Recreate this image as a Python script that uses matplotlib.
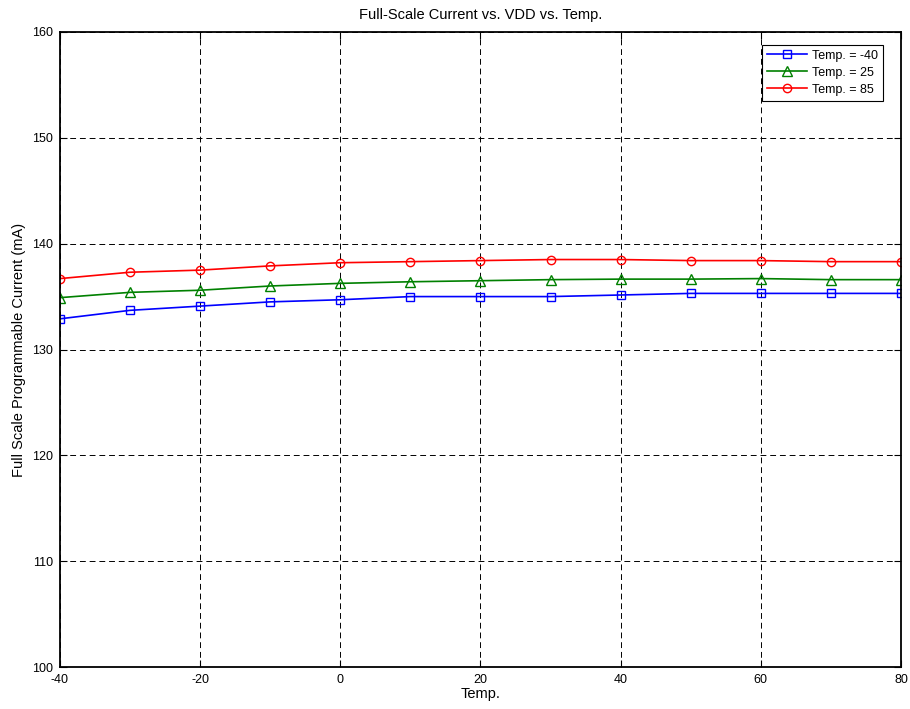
import matplotlib
matplotlib.use('Agg')
import matplotlib.pyplot as plt

temps = [-40, -30, -20, -10, 0, 10, 20, 30, 40, 50, 60, 70, 80]
cur_m40 = [132.9, 133.7, 134.1, 134.5, 134.7, 135.0, 135.0, 135.0, 135.15, 135.3, 135.3, 135.3, 135.3]
cur_25 = [134.9, 135.4, 135.6, 136.0, 136.25, 136.4, 136.5, 136.6, 136.65, 136.65, 136.7, 136.6, 136.6]
cur_85 = [136.7, 137.3, 137.5, 137.9, 138.2, 138.3, 138.4, 138.5, 138.5, 138.4, 138.4, 138.3, 138.3]

plt.rcParams['font.family'] = ['Liberation Sans', 'DejaVu Sans']
plt.rcParams['axes.unicode_minus'] = False

fig = plt.figure(figsize=(9.1, 7.09), dpi=100)
ax = fig.add_axes([0.0659, 0.0592, 0.9242, 0.8957])

ax.plot(temps, cur_m40, color='#0000ff', marker='s', mfc='none', ms=6, lw=1.2, label='Temp. = -40')
ax.plot(temps, cur_25, color='#008000', marker='^', mfc='none', ms=6.5, lw=1.2, label='Temp. = 25')
ax.plot(temps, cur_85, color='#ff0000', marker='o', mfc='none', ms=6, lw=1.2, label='Temp. = 85')

ax.set_xlim(-40, 80)
ax.set_ylim(100, 160)
ax.set_xticks(range(-40, 81, 20))
ax.set_yticks(range(100, 161, 10))
ax.grid(True, color='black', linestyle=(0, (6, 4)), linewidth=0.7)
ax.tick_params(direction='in', top=True, right=True, labelsize=9, length=5, width=0.8)
ax.tick_params(axis='x', pad=5)
ax.tick_params(axis='y', pad=5)
for s in ax.spines.values():
    s.set_linewidth(1.3)

ax.set_title('Full-Scale Current vs. VDD vs. Temp.', fontsize=10.5, pad=9)
ax.set_xlabel('Temp.', fontsize=10.5, labelpad=1)
ax.set_ylabel('Full Scale Programmable Current (mA)', fontsize=10.5, labelpad=4)

leg = ax.legend(loc='upper right', bbox_to_anchor=(0.979, 0.98), borderaxespad=0,
                fontsize=9, fancybox=False, framealpha=1, edgecolor='black',
                handlelength=3.2, handletextpad=0.4, labelspacing=0.4, borderpad=0.4)
leg.get_frame().set_linewidth(0.8)

fig.savefig('out.png', dpi=100)
